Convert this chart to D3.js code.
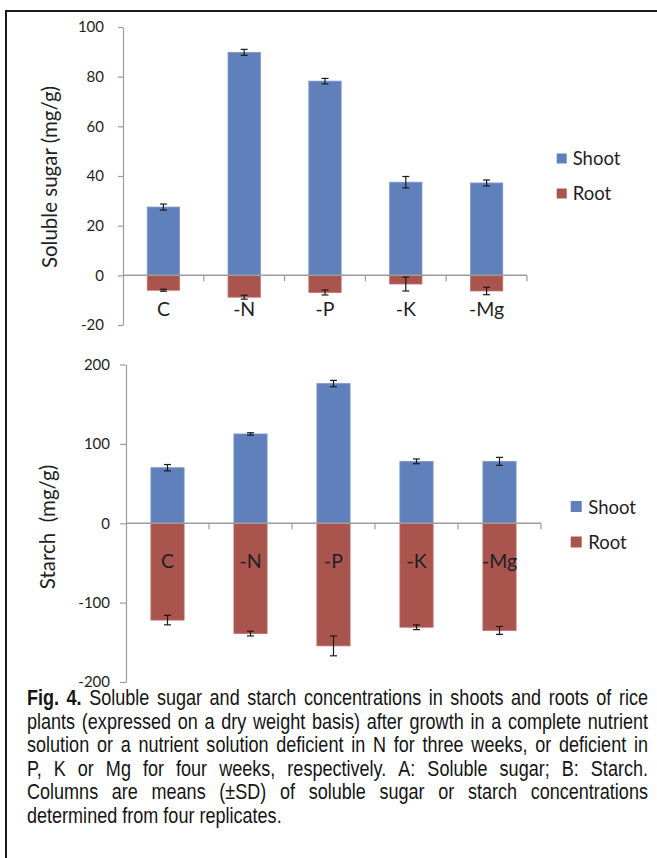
<!DOCTYPE html>
<html>
<head>
<meta charset="utf-8">
<script src="https://cdn.jsdelivr.net/npm/d3@7"></script>
<style>
  body { margin: 0; background: #fff; }
  svg { display: block; }
</style>
</head>
<body>
<svg id="fig" width="657" height="858"></svg>
<script>
// ---- data -------------------------------------------------------------
const categories = ["C", "-N", "-P", "-K", "-Mg"];
const seriesNames = ["Shoot", "Root"];

// A: soluble sugar (mg/g); roots plotted as negative values
const sugarShoot   = [27.5, 89.8, 78.2, 37.5, 37.2];
const sugarShootSD = [1.2, 1.2, 1.1, 2.3, 1.2];
const sugarRoot    = [-6.0, -8.8, -6.9, -3.5, -6.3];
const sugarRootSD  = [0.4, 0.8, 1.0, 2.8, 1.5];
const sugarTicks   = [-20, 0, 20, 40, 60, 80, 100];

// B: starch (mg/g)
const starchShoot   = [70, 112.5, 176, 78, 78];
const starchShootSD = [4, 1.5, 4, 3, 5];
const starchRoot    = [-122, -139, -154.5, -131, -135];
const starchRootSD  = [6, 3, 12.5, 3, 5];
const starchTicks   = [-200, -100, 0, 100, 200];

const captionLines = [
  "Fig. 4. Soluble sugar and starch concentrations in shoots and roots of rice",
  "plants (expressed on a dry weight basis) after growth in a complete nutrient",
  "solution or a nutrient solution deficient in N for three weeks, or deficient in",
  "P, K or Mg for four weeks, respectively. A: Soluble sugar; B: Starch.",
  "Columns are means (\u00B1SD) of soluble sugar or starch concentrations",
  "determined from four replicates."
];

// ---- styles -----------------------------------------------------------
const colors = { Shoot: "#5f80bb", Root: "#a9554e" };
const outline = { Shoot: "#7d98c8", Root: "#bd716b" };
const chartFont = "Lato, 'Open Sans', sans-serif";
const textColor = "#1e1e24";
const axisColor = "#9c9c9c";

const svg = d3.select("#fig");

// frame around the figure (only top and left edges fall inside the page)
svg.append("line").attr("x1", 6).attr("x2", 657).attr("y1", 11).attr("y2", 11)
  .attr("stroke", "#1a1a1a").attr("stroke-width", 2);
svg.append("line").attr("x1", 6).attr("x2", 6).attr("y1", 10).attr("y2", 858)
  .attr("stroke", "#1a1a1a").attr("stroke-width", 2);

function drawPanel(p) {
  const g = svg.append("g");
  const x = d3.scaleBand().domain(categories).range([p.x0, p.x1]).padding(0);
  const y = d3.scaleLinear().domain(p.domain).range(p.range);
  const bw = x.bandwidth() * 0.4;

  // y axis
  const yAxis = d3.axisLeft(y).tickValues(p.ticks).tickSize(p.tickSize)
    .tickPadding(p.tickPad).tickSizeOuter(0).tickFormat(d3.format("d"));
  const ya = g.append("g").attr("transform", `translate(${p.x0},0)`).call(yAxis);
  ya.select(".domain").attr("stroke", axisColor).attr("stroke-width", 1.2);
  ya.selectAll(".tick line").attr("stroke", axisColor).attr("stroke-width", 1.2);
  ya.selectAll(".tick text").attr("font-family", chartFont).attr("font-size", 15)
    .attr("fill", textColor).text(d => d < 0 ? "-" + Math.abs(d) : d);

  // bars
  const rows = categories.map((c, i) => ({
    c, shoot: p.shoot[i], shootSD: p.shootSD[i], root: p.root[i], rootSD: p.rootSD[i]
  }));
  const bars = [];
  rows.forEach(r => {
    bars.push({ c: r.c, s: "Shoot", v: r.shoot, sd: r.shootSD });
    bars.push({ c: r.c, s: "Root", v: r.root, sd: r.rootSD });
  });
  g.selectAll("rect.bar").data(bars).join("rect")
    .attr("class", "bar")
    .attr("x", d => x(d.c) + (x.bandwidth() - bw) / 2)
    .attr("width", bw)
    .attr("y", d => y(Math.max(d.v, 0)))
    .attr("height", d => Math.abs(y(d.v) - y(0)))
    .attr("fill", d => colors[d.s])
    .attr("stroke", d => outline[d.s]).attr("stroke-width", 0.8);

  // x axis line at zero with downward ticks between categories
  g.append("line").attr("x1", p.x0).attr("x2", p.x1)
    .attr("y1", y(0)).attr("y2", y(0))
    .attr("stroke", axisColor).attr("stroke-width", 1.5);
  g.selectAll("line.xtick").data(categories).join("line")
    .attr("class", "xtick")
    .attr("x1", c => x(c) + x.bandwidth()).attr("x2", c => x(c) + x.bandwidth())
    .attr("y1", y(0)).attr("y2", y(0) + 6)
    .attr("stroke", axisColor).attr("stroke-width", 1.2);

  // error bars (±SD)
  const eb = g.selectAll("g.err").data(bars).join("g").attr("class", "err")
    .attr("stroke", "#1a1a1a").attr("stroke-width", 1.2);
  const cx = d => x(d.c) + x.bandwidth() / 2;
  eb.append("line").attr("x1", cx).attr("x2", cx)
    .attr("y1", d => y(d.v - d.sd)).attr("y2", d => y(d.v + d.sd));
  eb.append("line").attr("x1", d => cx(d) - 3.5).attr("x2", d => cx(d) + 3.5)
    .attr("y1", d => y(d.v - d.sd)).attr("y2", d => y(d.v - d.sd));
  eb.append("line").attr("x1", d => cx(d) - 3.5).attr("x2", d => cx(d) + 3.5)
    .attr("y1", d => y(d.v + d.sd)).attr("y2", d => y(d.v + d.sd));

  // category labels
  g.selectAll("text.cat").data(categories).join("text")
    .attr("class", "cat")
    .attr("x", c => x(c) + x.bandwidth() / 2)
    .attr("y", p.catY)
    .attr("text-anchor", "middle")
    .attr("font-family", chartFont).attr("font-size", 19.5)
    .attr("fill", textColor)
    .text(c => c);

  // axis title
  g.append("text")
    .attr("transform", `translate(${p.titleX},${p.titleY}) rotate(-90)`)
    .attr("text-anchor", "middle")
    .attr("font-family", chartFont).attr("font-size", 20.5)
    .attr("fill", textColor)
    .style("white-space", "pre")
    .text(p.title);

  // legend
  const lg = g.selectAll("g.legend").data(seriesNames).join("g").attr("class", "legend")
    .attr("transform", (s, i) => `translate(${p.legX},${p.legY + i * p.legDy})`);
  lg.append("rect").attr("x", 0).attr("y", -p.legSq - 1.5).attr("width", p.legSq).attr("height", p.legSq)
    .attr("fill", s => colors[s]);
  lg.append("text").attr("x", p.legTextDx).attr("y", 0)
    .attr("font-family", chartFont).attr("font-size", 18.5)
    .attr("fill", textColor).text(s => s);
}

drawPanel({
  x0: 123, x1: 527, domain: [-20, 100], range: [325, 27],
  ticks: sugarTicks, tickSize: 5, tickPad: 14,
  shoot: sugarShoot, shootSD: sugarShootSD, root: sugarRoot, rootSD: sugarRootSD,
  catY: 316, title: "Soluble sugar (mg/g)", titleX: 56.5, titleY: 177,
  legX: 556.7, legY: 165, legDy: 35, legSq: 10, legTextDx: 16
});

drawPanel({
  x0: 126, x1: 541, domain: [-200, 200], range: [682, 364.5],
  ticks: starchTicks, tickSize: 6, tickPad: 10,
  shoot: starchShoot, shootSD: starchShootSD, root: starchRoot, rootSD: starchRootSD,
  catY: 567.5, title: "Starch  (mg/g)", titleX: 55, titleY: 527,
  legX: 570.7, legY: 513.5, legDy: 35.5, legSq: 11, legTextDx: 17.6
});

// ---- caption (justified) ----------------------------------------------
function measure(txt, family, size, weight) {
  const t = svg.append("text").attr("font-family", family).attr("font-size", size)
    .attr("font-weight", weight || "normal").style("white-space", "pre").text(txt);
  const w = t.node().getComputedTextLength();
  t.remove();
  return w;
}
const capSize = 22;
const narrowStack = "'Liberation Sans Narrow', 'Liberation Sans'";
const narrowOK = measure("determined", narrowStack, capSize) <
                 0.9 * measure("determined", "'Liberation Sans'", capSize);
const capFamily = narrowOK ? narrowStack : "'Liberation Sans', Arial, sans-serif";
const sx = narrowOK ? 1 : 0.82;
const capX0 = 27, capX1 = 648, capY0 = 705, capDy = 23.5;
const spaceW = measure("a a", capFamily, capSize) - measure("aa", capFamily, capSize);

const cap = svg.append("g").attr("font-family", capFamily).attr("font-size", capSize)
  .attr("fill", "#141414");
captionLines.forEach((line, i) => {
  const words = line.split(" ");
  const weights = words.map((w, j) => (i === 0 && j < 2) ? "bold" : "normal");
  const widths = words.map((w, j) => measure(w, capFamily, capSize, weights[j]));
  const avail = (capX1 - capX0) / sx;
  const justify = i < captionLines.length - 1;
  const gap = justify ? (avail - d3.sum(widths)) / (words.length - 1) : spaceW;
  let pos = 0;
  const lineG = cap.append("g")
    .attr("transform", `translate(${capX0},${capY0 + i * capDy}) scale(${sx},1)`);
  words.forEach((w, j) => {
    lineG.append("text").attr("x", pos).attr("y", 0)
      .attr("font-weight", weights[j]).text(w);
    pos += widths[j] + gap;
  });
});
</script>
</body>
</html>
